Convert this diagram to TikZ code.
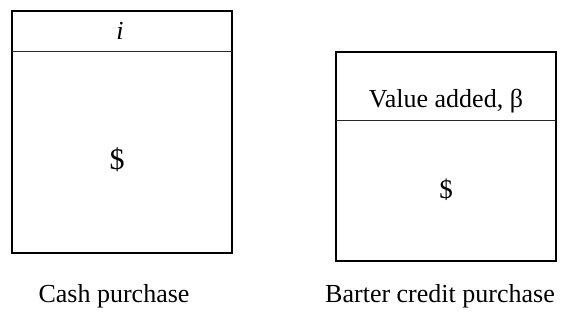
\documentclass[tikz,border=0pt]{standalone}
\usepackage{fontspec}
\setmainfont{Liberation Serif}
\tikzset{
  frame/.style={line width=2.6pt},
  divider/.style={line width=0.9pt, black!85},
  boxtext/.style={font=\fontsize{26}{30}\selectfont},
  dollar/.style={font=\fontsize{30}{34}\selectfont}
}

\begin{document}
\begin{tikzpicture}[x=1pt,y=-1pt]
  \useasboundingbox (0,0) rectangle (566,325);

  % cash purchase
  \draw[frame] (12,11) rectangle (232,253);
  \draw[divider] (12,51) -- (232,51);
  \node[boxtext] (rate) at (120,31) {\textit{i}};
  \node[dollar] (cashamt) at (117,160) {\$};

  % barter credit purchase
  \draw[frame] (336,52) rectangle (556,261);
  \draw[divider] (336,120) -- (556,120);
  \node[boxtext] (beta) at (446,101) {Value added, β};
  \node[dollar, font=\fontsize{27}{30}\selectfont] (barteramt) at (446,190) {\$};

  % captions
  \node[boxtext] (cashlbl) at (114,296) {Cash purchase};
  \node[boxtext] (barterlbl) at (440,296) {Barter credit purchase};

\end{tikzpicture}
\end{document}
